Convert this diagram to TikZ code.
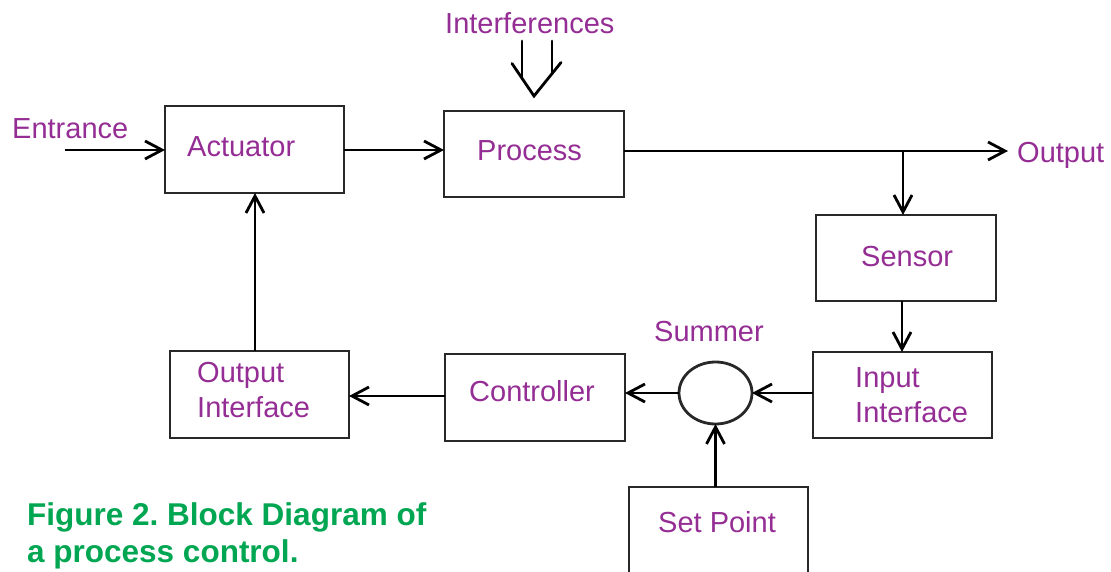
\documentclass[tikz,border=0pt]{standalone}
\usepackage{fontspec}
\setmainfont{Liberation Sans}
\usetikzlibrary{arrows.meta,shapes.geometric}
\definecolor{lblpurple}{RGB}{148,45,148}
\definecolor{capgreen}{RGB}{0,166,81}
\definecolor{boxgray}{RGB}{40,40,40}
\frenchspacing
\begin{document}
\begin{tikzpicture}[x=1pt,y=-1pt,
  box/.style={draw=boxgray,line width=2.8pt,rectangle,inner sep=0pt,outer sep=0pt,minimum width=179pt,minimum height=87pt},
  summer/.style={draw=boxgray,line width=2.8pt,ellipse,inner sep=0pt,outer sep=0pt,minimum width=73pt,minimum height=62pt},
  lbl/.style={text=lblpurple,font=\fontsize{29}{35}\selectfont,inner sep=0pt,anchor=base west,align=left},
  captext/.style={text=capgreen,font=\fontsize{31.5}{37}\selectfont\bfseries,inner sep=0pt,anchor=base west,align=left},
  arr/.style={draw=black,line width=2.8pt,-{Straight Barb[length=17pt,width=18pt,line width=2.8pt]}},
  wire/.style={draw=black,line width=2.8pt,line cap=round,line join=miter}]
\useasboundingbox (0,0) rectangle (1111,572);
\clip (0,0) rectangle (1111,572);
% boxes
\node[box] (act) at (254.5,149.5) {};
\node[box,minimum width=180pt,minimum height=86pt] (proc) at (534,154) {};
\node[box,minimum width=180pt,minimum height=86pt] (sens) at (906,258) {};
\node[box,minimum height=86pt] (inif) at (902.5,395) {};
\node[box] (outif) at (259.5,394.5) {};
\node[box,minimum width=180pt] (ctrl) at (535,397.5) {};
\node[box] (setp) at (718.5,530.5) {};
\node[summer] (sum) at (715.5,393) {};
% labels
\node[lbl] (tint) at (445,33.5) {Interferences};
\node[lbl] (tent) at (12,139) {Entrance};
\node[lbl] (tact) at (187,157) {Actuator};
\node[lbl] (tproc) at (477,160.5) {Process};
\node[lbl] (tout) at (1017,163) {Output};
\node[lbl] (tsens) at (861,266) {Sensor};
\node[lbl] (tinif) at (855,422) {Input\\Interface};
\node[lbl] (tsum) at (654,341) {Summer};
\node[lbl] (tsetp) at (658,532) {Set Point};
\node[lbl] (toutif) at (197,417) {Output\\Interface};
\node[lbl] (tctrl) at (469,401) {Controller};
\node[captext] (caption) at (27,562) {Figure 2. Block Diagram of\\a process control.};
% coordinates
\coordinate (ent) at (65,150);
\coordinate (outc) at (1008,151);
\coordinate (br) at (903,151);
\coordinate (apex) at (534,96);
\coordinate (armL) at (512,63.5);
\coordinate (armR) at (561,62.5);
\coordinate (lineL) at (522,41);
\coordinate (lineR) at (552,41);
% connectors
\draw[arr] (ent) -- (ent -| act.west);
\draw[arr] (act.east |- 0,150) -- (proc.west |- 0,150);
\draw[arr] (proc.east |- outc) -- (outc);
\draw[arr] (br) -- (br |- sens.north);
\draw[arr] ([xshift=-4pt]sens.south) -- ([xshift=-4pt]sens.south |- inif.north);
\draw[arr] (inif.west |- sum.east) -- (sum.east);
\draw[arr] (sum.west) -- (sum.west -| ctrl.east);
\draw[arr] (ctrl.west |- 0,396) -- (outif.east |- 0,396);
\draw[arr] ([xshift=-4.5pt]outif.north) -- ([xshift=-4.5pt]outif.north |- act.south);
\draw[arr] (setp.north -| sum.south) -- (sum.south);
% interferences double arrow
\draw[wire] (armL) -- (apex) -- (armR);
\draw[wire] (lineL) -- (522,78.5);
\draw[wire] (lineR) -- (552,73);
\end{tikzpicture}
\end{document}
